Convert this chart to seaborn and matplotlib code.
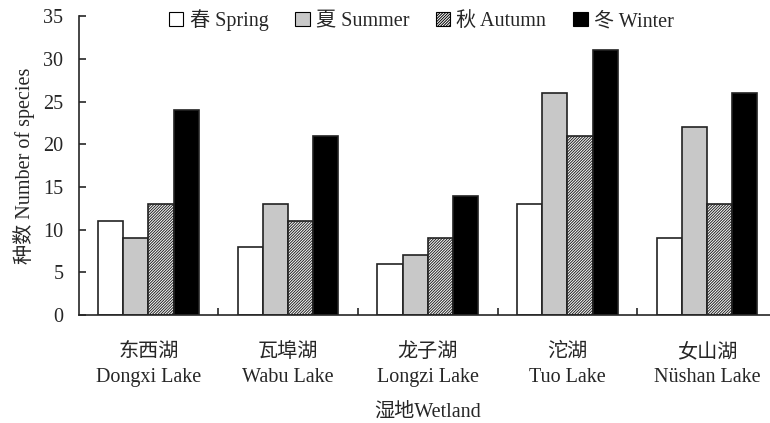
#---------------------------------------------------------------
import matplotlib.pyplot as plt
import pandas as pd
import seaborn as sns
from matplotlib.patches import Patch

#---------------------------------------------------------------
lakes = ['东西湖\nDongxi Lake', '瓦埠湖\nWabu Lake', '龙子湖\nLongzi Lake',
         '沱湖\nTuo Lake', '女山湖\nNüshan Lake']
seasons = ['春 Spring', '夏 Summer', '秋 Autumn', '冬 Winter']
spring = [11, 8, 6, 13, 9]
summer = [9, 13, 7, 26, 22]
autumn = [13, 11, 9, 21, 13]
winter = [24, 21, 14, 31, 26]

colors = ['white', '#c8c8c8', 'white', 'black']
hatches = ['', '', '////////////', '']


#---------------------------------------------------------------
def main():
    df = pd.DataFrame({
        'lake': lakes * 4,
        'season': [s for s in seasons for _ in lakes],
        'value': spring + summer + autumn + winter,
    })

    sns.set_theme(style='ticks')
    plt.rcParams['font.family'] = ['Liberation Serif', 'Noto Sans CJK SC']
    plt.rcParams['hatch.linewidth'] = 0.7
    plt.rcParams['hatch.color'] = '#333333'

    fig = plt.figure(figsize=(7.7, 4.23), dpi=100)
    ax = fig.add_axes([0.102, 0.255, 0.907, 0.707])
    sns.barplot(data=df, x='lake', y='value', hue='season', order=lakes,
                hue_order=seasons, palette=colors, width=0.72, gap=0,
                edgecolor='black', linewidth=1.2, saturation=1,
                legend=False, ax=ax)

    for i, cont in enumerate(ax.containers):
        for bar in cont:
            bar.set_facecolor(colors[i])
            bar.set_hatch(hatches[i])
            bar.set_edgecolor('#222222')

    ax.set_xlim(-0.5, 4.5)
    ax.set_ylim(0, 35)
    ax.set_yticks(range(0, 36, 5))
    ax.set_xticks(range(5))
    ax.set_xticks([0.5, 1.5, 2.5, 3.5, 4.5], minor=True)
    ax.tick_params(axis='x', which='major', length=0, labelsize=14.5, pad=20)
    ax.tick_params(axis='x', which='minor', direction='in', length=5, width=1.2)
    ax.tick_params(axis='y', direction='in', length=5, width=1.2,
                   labelsize=14.5, pad=11)
    for lbl in ax.get_xticklabels():
        lbl.set_linespacing(1.45)
    sns.despine(ax=ax)
    for s in ['left', 'bottom']:
        ax.spines[s].set_linewidth(1.2)

    ax.set_xlabel('湿地Wetland', fontsize=14.5, labelpad=11)
    ax.set_ylabel('种数 Number of species', fontsize=14.5, labelpad=6)

    handles = [Patch(facecolor=c, edgecolor='black', hatch=h, linewidth=0.8)
               for c, h in zip(colors, hatches)]
    ax.legend(handles, seasons, ncol=4, frameon=False, fontsize=14.5,
              loc='center', bbox_to_anchor=(0.491, 0.985),
              handlelength=0.7, handleheight=0.7, handletextpad=0.3,
              columnspacing=1.35)

    fig.savefig('out.png', dpi=100)


#---------------------------------------------------------------
if __name__ == '__main__':
    main()
